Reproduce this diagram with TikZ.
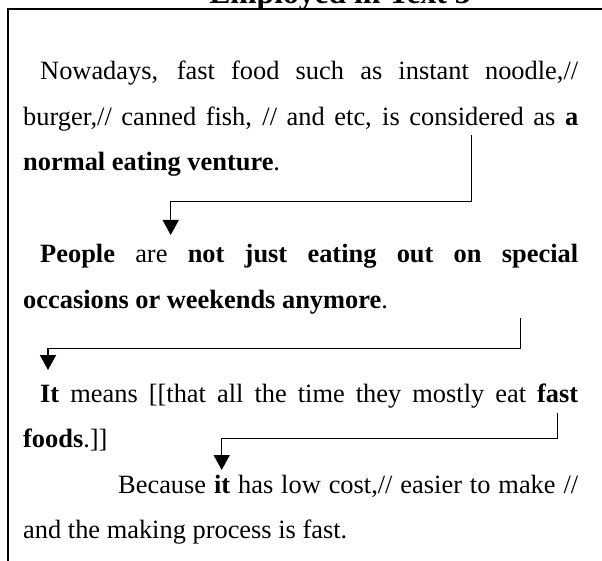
\documentclass[tikz,border=0pt]{standalone}
\usepackage{fontspec}
\setmainfont{Liberation Serif}
\usetikzlibrary{arrows.meta}

\begin{document}
\begin{tikzpicture}[x = 1pt, y = -1pt,
            para/.style = {anchor=base west, inner sep=0, text width=555pt, align=justify,
                font=\fontsize{26.4}{45.5}\selectfont},
            flow/.style = {line width=1.5pt, -{Triangle[length=15pt, width=16pt]}},
            frameline/.style = {line width=2.3pt}]

            \useasboundingbox (0,0) rectangle (602,561);

            \node[font=\bfseries\fontsize{31.6}{38}\selectfont, anchor=base] (title) at (340,4) {Employed in Text 3};
            \draw[frameline] (8.3,570) |- (610,9.3);

            \node[para] (pNowadays) at (23,80)
                {\hspace*{17pt}Nowadays, fast food such as instant noodle,//\linebreak
                burger,// canned fish, // and etc, is considered as \textbf{a}\linebreak
                \textbf{normal eating venture}.};

            \node[para] (pPeople) at (23,263)
                {\hspace*{17pt}\textbf{People} are \textbf{not just eating out on special}\linebreak
                \textbf{occasions or weekends anymore}.};

            \node[para] (pIt) at (23,402)
                {\hspace*{17pt}\textbf{It} means [[that all the time they mostly eat \textbf{fast}\linebreak
                \textbf{foods}.]]};

            \node[para] (pBecause) at (23,493)
                {\hspace*{95pt}Because \textbf{it} has low cost,// easier to make //\linebreak
                and the making process is fast.};

            \coordinate (venture) at (471.7,135);
            \coordinate (people) at (170.7,235);
            \coordinate (anymore) at (520.7,318);
            \coordinate (it) at (48,370);
            \coordinate (foods) at (557.3,412.7);
            \coordinate (because) at (221.7,470);

            \draw[flow] (venture) -- ++(0,66.7) -| (people);
            \draw[flow] (anymore) -- ++(0,30.3) -| (it);
            \draw[flow] (foods) -- ++(0,25.6) -| (because);
\end{tikzpicture}
\end{document}
